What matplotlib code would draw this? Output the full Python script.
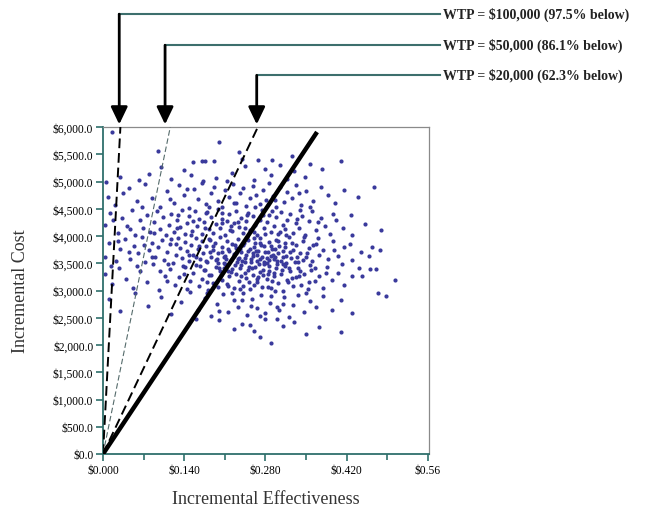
import matplotlib
matplotlib.use("Agg")
import matplotlib.pyplot as plt
from matplotlib.ticker import FixedLocator

plt.rcParams["font.family"] = ["Liberation Serif", "DejaVu Serif"]

# simulated (incremental effectiveness, incremental cost) pairs, read off the cloud
points_5000_6000 = [
    (0.016, 5900), (0.095, 5560), (0.155, 5360), (0.079, 5140), (0.200, 5725), (0.235, 5540),
    (0.170, 5380), (0.176, 5385), (0.191, 5375), (0.326, 5470), (0.410, 5380), (0.377, 5230),
    (0.268, 5390), (0.305, 5310), (0.245, 5280), (0.139, 5210), (0.118, 5050), (0.062, 5020),
    (0.222, 5150), (0.289, 5120), (0.348, 5080), (0.260, 5030), (0.195, 5060), (0.030, 5080),
    (0.005, 5000), (0.330, 5190), (0.292, 5390), (0.280, 5235), (0.214, 5005), (0.152, 5120),
    (0.100, 5270), (0.357, 5320), (0.240, 5420), (0.318, 5050), (0.172, 5010),
]
points_4500_5000 = [
    (0.008, 4720), (0.020, 4560), (0.045, 4880), (0.058, 4640), (0.072, 4960), (0.085, 4700),
    (0.098, 4540), (0.110, 4820), (0.123, 4610), (0.131, 4930), (0.140, 4750), (0.148, 4520),
    (0.157, 4860), (0.163, 4680), (0.170, 4980), (0.178, 4590), (0.186, 4790), (0.192, 4900),
    (0.199, 4650), (0.205, 4530), (0.211, 4840), (0.218, 4720), (0.224, 4960), (0.230, 4610),
    (0.236, 4780), (0.241, 4880), (0.247, 4550), (0.253, 4690), (0.259, 4920), (0.264, 4760),
    (0.270, 4580), (0.276, 4850), (0.281, 4660), (0.287, 4970), (0.293, 4740), (0.299, 4530),
    (0.305, 4890), (0.312, 4620), (0.318, 4800), (0.325, 4700), (0.333, 4940), (0.341, 4570),
    (0.350, 4830), (0.362, 4650), (0.375, 4900), (0.388, 4760), (0.400, 4600), (0.415, 4840),
    (0.440, 4720), (0.468, 4900), (0.035, 4780), (0.067, 4530), (0.115, 4680), (0.145, 4870),
    (0.183, 4530), (0.226, 4600), (0.262, 4540), (0.296, 4660), (0.338, 4780), (0.356, 4540),
]
points_4000_4500 = [
    (0.003, 4210), (0.012, 4420), (0.025, 4050), (0.033, 4330), (0.041, 4180), (0.050, 4470),
    (0.056, 4020), (0.063, 4290), (0.069, 4140), (0.076, 4390), (0.081, 4080), (0.088, 4250),
    (0.093, 4460), (0.099, 4120), (0.104, 4340), (0.108, 4010), (0.113, 4200), (0.118, 4410),
    (0.122, 4070), (0.127, 4300), (0.132, 4160), (0.136, 4480), (0.141, 4030), (0.145, 4240),
    (0.149, 4370), (0.154, 4100), (0.158, 4450), (0.162, 4190), (0.166, 4310), (0.170, 4040),
    (0.174, 4260), (0.178, 4420), (0.182, 4130), (0.186, 4350), (0.190, 4060), (0.194, 4220),
    (0.198, 4490), (0.202, 4150), (0.206, 4320), (0.210, 4010), (0.214, 4270), (0.218, 4400),
    (0.222, 4090), (0.226, 4230), (0.230, 4460), (0.234, 4170), (0.238, 4330), (0.242, 4050),
    (0.246, 4280), (0.250, 4430), (0.254, 4110), (0.258, 4360), (0.262, 4200), (0.266, 4020),
    (0.270, 4300), (0.274, 4470), (0.278, 4140), (0.282, 4250), (0.286, 4390), (0.290, 4070),
    (0.294, 4180), (0.298, 4340), (0.302, 4030), (0.306, 4440), (0.310, 4210), (0.314, 4120),
    (0.318, 4300), (0.323, 4400), (0.328, 4060), (0.333, 4230), (0.338, 4150), (0.343, 4360),
    (0.349, 4010), (0.355, 4270), (0.361, 4450), (0.368, 4110), (0.375, 4330), (0.383, 4190),
    (0.392, 4040), (0.402, 4290), (0.413, 4150), (0.428, 4380), (0.452, 4220), (0.480, 4110),
    (0.430, 4020), (0.018, 4300), (0.047, 4120), (0.130, 4380), (0.175, 4140), (0.205, 4420),
    (0.233, 4260), (0.260, 4080), (0.292, 4460), (0.316, 4010), (0.340, 4470), (0.370, 4250),
    (0.397, 4400), (0.220, 4180), (0.248, 4380),
]
points_3500_4000 = [
    (0.004, 3620), (0.010, 3880), (0.022, 3540), (0.030, 3760), (0.038, 3950), (0.046, 3580),
    (0.054, 3820), (0.060, 3690), (0.067, 3980), (0.073, 3520), (0.079, 3740), (0.084, 3880),
    (0.090, 3610), (0.095, 3790), (0.101, 3930), (0.106, 3560), (0.111, 3700), (0.116, 3850),
    (0.120, 3500), (0.125, 3660), (0.129, 3960), (0.133, 3780), (0.137, 3590), (0.141, 3890),
    (0.145, 3720), (0.149, 3540), (0.152, 3830), (0.156, 3650), (0.160, 3970), (0.163, 3760),
    (0.167, 3580), (0.170, 3900), (0.173, 3690), (0.177, 3810), (0.180, 3530), (0.183, 3940),
    (0.187, 3620), (0.190, 3750), (0.193, 3870), (0.196, 3570), (0.199, 3680), (0.202, 3990),
    (0.205, 3800), (0.208, 3510), (0.211, 3640), (0.214, 3910), (0.217, 3730), (0.220, 3560),
    (0.223, 3860), (0.226, 3670), (0.229, 3780), (0.232, 3950), (0.235, 3600), (0.238, 3710),
    (0.241, 3840), (0.244, 3520), (0.247, 3650), (0.250, 3920), (0.253, 3770), (0.256, 3580),
    (0.259, 3690), (0.262, 3880), (0.265, 3540), (0.268, 3730), (0.271, 3960), (0.274, 3610),
    (0.277, 3820), (0.280, 3700), (0.283, 3500), (0.286, 3890), (0.289, 3640), (0.292, 3760),
    (0.295, 3570), (0.298, 3930), (0.301, 3680), (0.304, 3810), (0.307, 3550), (0.310, 3720),
    (0.313, 3870), (0.316, 3630), (0.320, 3980), (0.324, 3590), (0.328, 3750), (0.332, 3840),
    (0.336, 3520), (0.340, 3690), (0.345, 3900), (0.350, 3610), (0.355, 3780), (0.361, 3550),
    (0.367, 3850), (0.373, 3660), (0.380, 3740), (0.388, 3580), (0.396, 3910), (0.405, 3640),
    (0.416, 3790), (0.430, 3560), (0.445, 3700), (0.463, 3800), (0.477, 3740), (0.160, 3620),
    (0.185, 3710), (0.212, 3580), (0.236, 3770), (0.258, 3630), (0.273, 3840), (0.297, 3610),
    (0.322, 3700), (0.245, 3600), (0.266, 3660), (0.282, 3590), (0.230, 3680), (0.205, 3700),
    (0.195, 3560), (0.255, 3520), (0.278, 3520), (0.300, 3540), (0.315, 3500), (0.240, 3540),
    (0.260, 3800), (0.290, 3820), (0.225, 3630), (0.270, 3580), (0.285, 3700), (0.310, 3620),
]
points_3000_3500 = [
    (0.003, 3300), (0.015, 3120), (0.028, 3420), (0.040, 3210), (0.052, 3050), (0.064, 3360),
    (0.075, 3160), (0.087, 3480), (0.097, 3010), (0.107, 3270), (0.116, 3390), (0.124, 3110),
    (0.131, 3240), (0.138, 3450), (0.144, 3030), (0.150, 3180), (0.156, 3330), (0.161, 3470),
    (0.166, 3080), (0.171, 3220), (0.176, 3380), (0.181, 3010), (0.186, 3290), (0.190, 3140),
    (0.194, 3440), (0.198, 3060), (0.202, 3350), (0.206, 3200), (0.210, 3480), (0.214, 3120),
    (0.218, 3260), (0.222, 3400), (0.226, 3040), (0.230, 3310), (0.234, 3170), (0.238, 3460),
    (0.242, 3090), (0.246, 3230), (0.250, 3370), (0.254, 3020), (0.258, 3280), (0.262, 3430),
    (0.266, 3150), (0.270, 3340), (0.274, 3070), (0.278, 3490), (0.282, 3210), (0.286, 3360),
    (0.290, 3040), (0.294, 3270), (0.298, 3410), (0.302, 3130), (0.306, 3300), (0.310, 3000),
    (0.314, 3450), (0.318, 3190), (0.322, 3350), (0.327, 3080), (0.332, 3240), (0.337, 3420),
    (0.342, 3110), (0.347, 3300), (0.353, 3020), (0.359, 3380), (0.365, 3170), (0.372, 3270),
    (0.379, 3050), (0.387, 3440), (0.395, 3200), (0.405, 3330), (0.416, 3100), (0.430, 3270),
    (0.446, 3270), (0.460, 3400), (0.470, 3400), (0.503, 3190), (0.228, 3470), (0.252, 3440),
    (0.276, 3380), (0.300, 3480), (0.244, 3330), (0.268, 3250), (0.292, 3180), (0.216, 3350),
    (0.260, 3100), (0.284, 3060), (0.236, 3020), (0.320, 3420), (0.340, 3360), (0.200, 3420),
    (0.180, 3160), (0.140, 3300), (0.110, 3180),
]
points_2500_3000 = [
    (0.010, 2840), (0.030, 2620), (0.055, 2950), (0.078, 2710), (0.100, 2880), (0.118, 2560),
    (0.135, 2790), (0.150, 2980), (0.163, 2650), (0.175, 2870), (0.187, 2530), (0.197, 2760),
    (0.207, 2930), (0.216, 2600), (0.225, 2820), (0.233, 2700), (0.241, 2960), (0.249, 2550),
    (0.257, 2850), (0.265, 2680), (0.272, 2910), (0.280, 2580), (0.288, 2770), (0.296, 2990),
    (0.304, 2640), (0.312, 2880), (0.320, 2520), (0.328, 2740), (0.337, 2920), (0.346, 2610),
    (0.356, 2800), (0.367, 2700), (0.380, 2900), (0.394, 2650), (0.410, 2820), (0.430, 2590),
    (0.474, 2950), (0.488, 2900), (0.222, 2960), (0.255, 2720), (0.290, 2900), (0.310, 2760),
    (0.200, 2620), (0.180, 2950), (0.270, 2530), (0.350, 2950), (0.240, 2830), (0.300, 2700),
]
points_2000_2500 = [
    (0.289, 2040), (0.260, 2260), (0.240, 2390), (0.253, 2370), (0.310, 2350), (0.410, 2240),
    (0.372, 2330), (0.200, 2450), (0.225, 2300), (0.280, 2470), (0.330, 2420), (0.160, 2480),
    (0.350, 2200), (0.270, 2150), (0.300, 2480),
]
points_core = [
    (0.152, 4010), (0.167, 3450), (0.184, 3920), (0.203, 3280), (0.219, 4110), (0.231, 3520),
    (0.248, 3990), (0.257, 3410), (0.263, 3720), (0.279, 4040), (0.284, 3310), (0.297, 3770),
    (0.311, 3490), (0.326, 3880), (0.338, 3260), (0.352, 3690), (0.366, 3420), (0.174, 3370),
    (0.189, 3810), (0.209, 3620), (0.221, 3340), (0.243, 3880), (0.251, 3160), (0.269, 3480),
    (0.287, 3560), (0.302, 3910), (0.319, 3150), (0.334, 3610), (0.346, 3980), (0.215, 3760),
    (0.237, 3410), (0.261, 3960), (0.276, 3290), (0.293, 3650), (0.308, 3380), (0.331, 3530),
    (0.228, 3830), (0.198, 3500), (0.183, 3290), (0.165, 3820), (0.142, 3430), (0.126, 3850),
    (0.112, 3490), (0.098, 3350), (0.085, 3620), (0.071, 3830), (0.058, 3450), (0.044, 3710),
    (0.026, 3900), (0.013, 3450), (0.357, 3470), (0.371, 3960), (0.384, 3320), (0.399, 3750),
    (0.412, 3480), (0.426, 3850), (0.441, 3420), (0.458, 3630), (0.205, 4230), (0.245, 4150),
    (0.275, 4390), (0.305, 4080), (0.335, 4320), (0.180, 4440), (0.155, 4280), (0.128, 4150),
    (0.265, 3210), (0.215, 3080), (0.295, 3320), (0.325, 3230), (0.355, 3150), (0.238, 3260),
    (0.208, 3410), (0.178, 3550), (0.148, 3650), (0.118, 3950), (0.088, 4050), (0.270, 3880),
    (0.250, 3730), (0.232, 3580), (0.286, 3450), (0.314, 3790), (0.344, 3560), (0.362, 3830),
]

# willingness-to-pay lines: x where each dashed line meets the top of the plot
wtp_labels = ["WTP = $100,000 (97.5% below)", "WTP = $50,000 (86.1% below)", "WTP = $20,000 (62.3% below)"]
wtp_top_x = [0.030, 0.116, 0.267]
wtp_arrow_x = [0.028, 0.107, 0.265]
threshold_end = (0.369, 5908)

x_ticks = [0.0, 0.14, 0.28, 0.42, 0.56]
x_ticklabels = ["$0.000", "$0.140", "$0.280", "$0.420", "$0.56"]
y_ticks = list(range(0, 6001, 500))


def main():
    fig = plt.figure(figsize=(6.49, 5.10), dpi=100)
    ax = fig.add_axes([103 / 649, 55 / 510, 326 / 649, 327 / 510])

    all_points = (points_5000_6000 + points_4500_5000 + points_4000_4500 + points_3500_4000
                  + points_3000_3500 + points_2500_3000 + points_2000_2500 + points_core)
    xs, ys = zip(*all_points)
    ax.scatter(xs, ys, s=9, color="#3a3a9c", linewidths=0, zorder=2)

    styles = [
        dict(color="black", lw=1.4, ls=(0, (5, 2.5))),
        dict(color="#556b6b", lw=0.8, ls=(0, (5, 2.5))),
        dict(color="black", lw=1.4, ls=(0, (5, 2.5))),
    ]
    for top_x, st in zip(wtp_top_x, styles):
        ax.plot([0, top_x], [0, 6000], zorder=3, **st)
    ax.plot([0, threshold_end[0]], [0, threshold_end[1]], color="black", lw=3.2,
            solid_capstyle="butt", zorder=4)

    ax.set_xlim(0, 0.562)
    ax.set_ylim(0, 6000)
    ax.set_xticks(x_ticks)
    ax.set_xticklabels(x_ticklabels)
    ax.xaxis.set_minor_locator(FixedLocator([0.07, 0.21, 0.35, 0.49]))
    ax.set_yticks(y_ticks)
    ax.set_yticklabels([f"${v:,.1f}" for v in y_ticks])
    ax.tick_params(axis="both", which="major", length=5, width=1.2, color="#2f6f6c",
                   labelsize=8.3, pad=2)
    ax.tick_params(axis="x", which="minor", length=4, width=1.2, color="#2f6f6c")

    for side in ["left", "bottom"]:
        ax.spines[side].set_color("#2f6f6c")
        ax.spines[side].set_linewidth(1.3)
    for side in ["top", "right"]:
        ax.spines[side].set_color("#8a8a8a")
        ax.spines[side].set_linewidth(0.9)

    ax.set_xlabel("Incremental Effectiveness", fontsize=13, color="#333333", labelpad=10)
    ax.set_ylabel("Incremental Cost", fontsize=13, color="#333333", labelpad=17)

    # leader lines and arrows above the plot
    trans = ax.get_xaxis_transform()
    levels = [1.345, 1.250, 1.158]
    line_end_x = 0.5806
    for label, arrow_x, level in zip(wtp_labels, wtp_arrow_x, levels):
        ax.plot([arrow_x, line_end_x], [level, level], transform=trans, color="#3d6f6d",
                lw=1.5, clip_on=False)
        ax.annotate("", xy=(arrow_x, 1.008), xycoords=trans, xytext=(arrow_x, level),
                    textcoords=trans,
                    arrowprops=dict(arrowstyle="-|>,head_length=0.75,head_width=0.36",
                                    color="black", lw=2, mutation_scale=14,
                                    shrinkA=0, shrinkB=0))
        ax.text(line_end_x + 0.006, level, label, transform=trans, fontsize=10,
                fontweight="bold", va="center", ha="left", color="#222222", clip_on=False)

    fig.savefig("out.png", dpi=100)


if __name__ == "__main__":
    main()
